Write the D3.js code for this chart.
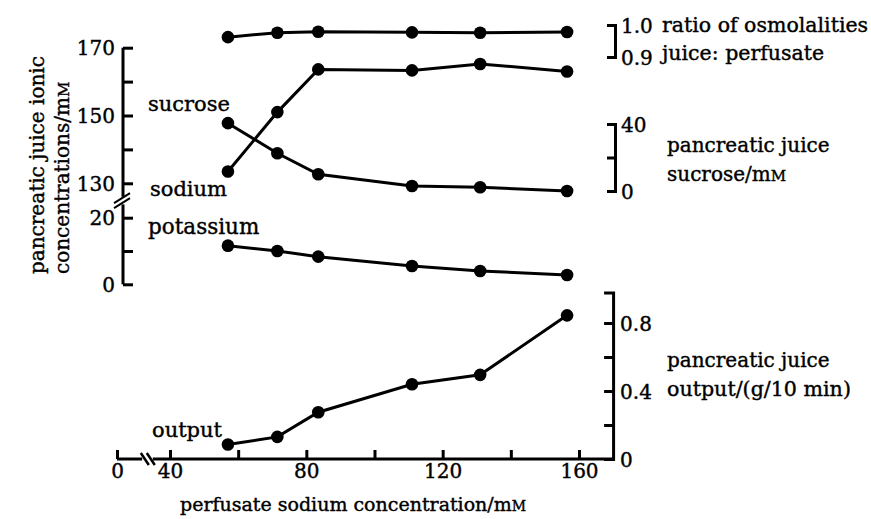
<!DOCTYPE html>
<html>
<head>
<meta charset="utf-8">
<script src="https://cdn.jsdelivr.net/npm/d3@7/dist/d3.min.js"></script>
<style>
  body { margin: 0; background: #fff; }
  svg text { font-family: "DejaVu Serif", serif; font-size: 20px; fill: #000; stroke: #000; stroke-width: 0.4px; }
  .axis path, .axis line { stroke: #000; stroke-width: 3; fill: none; }
  .axis .domain { stroke-linejoin: miter; }
</style>
</head>
<body>
<svg id="chart" width="871" height="519"></svg>
<script>
// Perfusate sodium concentration (mM) for each experiment
const perfusateNa = [57, 71.5, 83.5, 111, 131, 156.5];

// Series
const osmRatio   = [0.962, 0.976, 0.979, 0.977, 0.976, 0.978]; // juice : perfusate
const sodium     = [133.5, 151, 163.6, 163.3, 165.2, 163];      // mM
const sucrose    = [40.5, 22.5, 10, 3, 2.2, 0];                 // mM
const potassium  = [11.6, 10, 8.3, 5.5, 4, 2.8];                // mM
const output     = [0.085, 0.13, 0.275, 0.44, 0.495, 0.845];    // g/10 min

// Ticks
const xTicks = [0, 40, 60, 80, 100, 120, 140, 160];
const xTickLabels = [0, 40, 80, 120, 160];
const ionHighTicks = [130, 140, 150, 160, 170];
const ionLowTicks = [0, 10, 20];
const ionLabels = [0, 20, 130, 150, 170];
const outputTicks = [0, 0.2, 0.4, 0.6, 0.8];
const outputLabels = [0, 0.4, 0.8];
const sucroseTicks = [0, 20, 40];
const sucroseLabels = [0, 40];
const ratioTicks = [0.9, 1.0];

const svg = d3.select("#chart");

// Scales (the x axis is broken between 0 and 40)
const x = d3.scaleLinear().domain([0, 40, 160]).range([117, 170, 579]);
const yHigh = d3.scaleLinear().domain([130, 170]).range([183.3, 47.7]);
const yLow = d3.scaleLinear().domain([0, 20]).range([284.3, 217.7]);
const yRatio = d3.scaleLinear().domain([0.9, 1.0]).range([57, 25]);
const ySucrose = d3.scaleLinear().domain([0, 40]).range([191, 124]);
const yOutput = d3.scaleLinear().domain([0, 0.98]).range([459, 292.4]);

const xAxisY = yOutput(0);
const rightAxisX = x(170);
const upperRightX = 615;
const leftAxisX = 123;

const fmt = (labels, f) => d => labels.includes(d) ? f(d) : "";

// ----- Left axis (ionic concentrations), broken between 20 and 130
const gLeft = svg.append("g").attr("class", "axis").attr("transform", `translate(${leftAxisX},0)`);
gLeft.append("g")
  .call(d3.axisLeft(yHigh).tickValues(ionHighTicks).tickSizeInner(-10).tickSizeOuter(0).tickPadding(8)
    .tickFormat(fmt(ionLabels, d3.format("d"))))
  .call(g => g.select(".domain").remove());
gLeft.append("g")
  .call(d3.axisLeft(yLow).tickValues(ionLowTicks).tickSizeInner(-10).tickSizeOuter(0).tickPadding(8)
    .tickFormat(fmt(ionLabels, d3.format("d"))))
  .call(g => g.select(".domain").remove());
gLeft.append("line").attr("x1", 0).attr("x2", 0).attr("y1", yHigh(170)).attr("y2", yHigh(126));
gLeft.append("line").attr("x1", 0).attr("x2", 0).attr("y1", yLow(24)).attr("y2", yLow(0));
gLeft.selectAll("text").attr("dy", "0.36em").style("text-anchor", "end");
// break marks
const bkY = (yHigh(126) + yLow(24)) / 2;
[-2.5, 2.5].forEach(o => {
  gLeft.append("line").attr("x1", -9).attr("x2", 7).attr("y1", bkY + o + 5).attr("y2", bkY + o - 5)
    .style("stroke-width", 2);
});

// ----- Bottom axis (perfusate sodium), broken between 0 and 40
const gBottom = svg.append("g").attr("class", "axis").attr("transform", `translate(0,${xAxisY})`);
gBottom.append("g")
  .call(d3.axisBottom(x).tickValues(xTicks).tickSizeInner(-9).tickSizeOuter(0).tickPadding(5)
    .tickFormat(fmt(xTickLabels, d3.format("d"))))
  .call(g => g.select(".domain").remove());
gBottom.append("line").attr("x1", x(0)).attr("x2", x(19)).attr("y1", 0).attr("y2", 0);
gBottom.append("line").attr("x1", x(27)).attr("x2", rightAxisX).attr("y1", 0).attr("y2", 0);
[x(21), x(25.5)].forEach(bx => {
  gBottom.append("line").attr("x1", bx - 4).attr("x2", bx + 4).attr("y1", -6).attr("y2", 6)
    .style("stroke-width", 2.5);
});

// ----- Right axis (juice output)
svg.append("g").attr("class", "axis").attr("transform", `translate(${rightAxisX},0)`)
  .call(d3.axisRight(yOutput).tickValues(outputTicks).tickSizeInner(-9).tickSizeOuter(-9).tickPadding(7)
    .tickFormat(fmt(outputLabels, d => d === 0 ? "0" : d3.format(".1f")(d))))
  .call(g => g.selectAll("text").attr("dy", "0.36em"));

// ----- Upper right brackets (sucrose, osmolality ratio)
svg.append("g").attr("class", "axis").attr("transform", `translate(${upperRightX},0)`)
  .call(d3.axisRight(ySucrose).tickValues(sucroseTicks).tickSizeInner(-8).tickSizeOuter(-8).tickPadding(6)
    .tickFormat(fmt(sucroseLabels, d3.format("d"))))
  .call(g => g.selectAll("text").attr("dy", "0.36em"));
svg.append("g").attr("class", "axis").attr("transform", `translate(${upperRightX},0)`)
  .call(d3.axisRight(yRatio).tickValues(ratioTicks).tickSizeInner(-8).tickSizeOuter(-8).tickPadding(6)
    .tickFormat(d3.format(".1f")))
  .call(g => g.selectAll("text").attr("dy", "0.36em"));

svg.selectAll(".axis text")
  .style("font-family", '"DejaVu Serif", serif').style("font-size", "20px")
  .style("fill", "#000").style("stroke", "#000").style("stroke-width", "0.4px");

// ----- Series lines and dots
const series = [
  { values: osmRatio, y: yRatio },
  { values: sodium, y: yHigh },
  { values: sucrose, y: ySucrose },
  { values: potassium, y: yLow },
  { values: output, y: yOutput }
];
series.forEach(s => {
  const pts = perfusateNa.map((p, i) => [x(p), s.y(s.values[i])]);
  svg.append("path").attr("d", d3.line()(pts))
    .attr("fill", "none").attr("stroke", "#000").attr("stroke-width", 3);
  svg.selectAll(null).data(pts).enter().append("circle")
    .attr("cx", d => d[0]).attr("cy", d => d[1]).attr("r", 6.3).attr("fill", "#000");
});

// ----- Text
function mM(sel, prefix, small) {
  sel.append("tspan").text(prefix + "m");
  sel.append("tspan").style("font-size", small + "px").text("M");
  return sel;
}
const t = (tx, ty, s, size) => svg.append("text").attr("x", tx).attr("y", ty)
  .style("font-size", (size || 20) + "px").text(s);

t(148, 111, "sucrose", 21);
t(150, 196, "sodium", 21);
t(148, 234, "potassium", 21.5);
t(152, 437, "output", 21);

t(662, 32, "ratio of osmolalities", 20.5);
t(662, 60, "juice: perfusate", 20.5);
t(667, 152, "pancreatic juice");
mM(svg.append("text").attr("x", 667).attr("y", 181), "sucrose/", 15);
t(667, 367, "pancreatic juice");
t(667, 396, "output/(g/10 min)", 20.6);

mM(svg.append("text").attr("x", 180).attr("y", 511).style("font-size", "19px"),
   "perfusate sodium concentration/", 14);

svg.append("text").attr("transform", "translate(44,274) rotate(-90)").text("pancreatic juice ionic");
mM(svg.append("text").attr("transform", "translate(69,274) rotate(-90)"), "concentrations/", 15);
</script>
</body>
</html>
